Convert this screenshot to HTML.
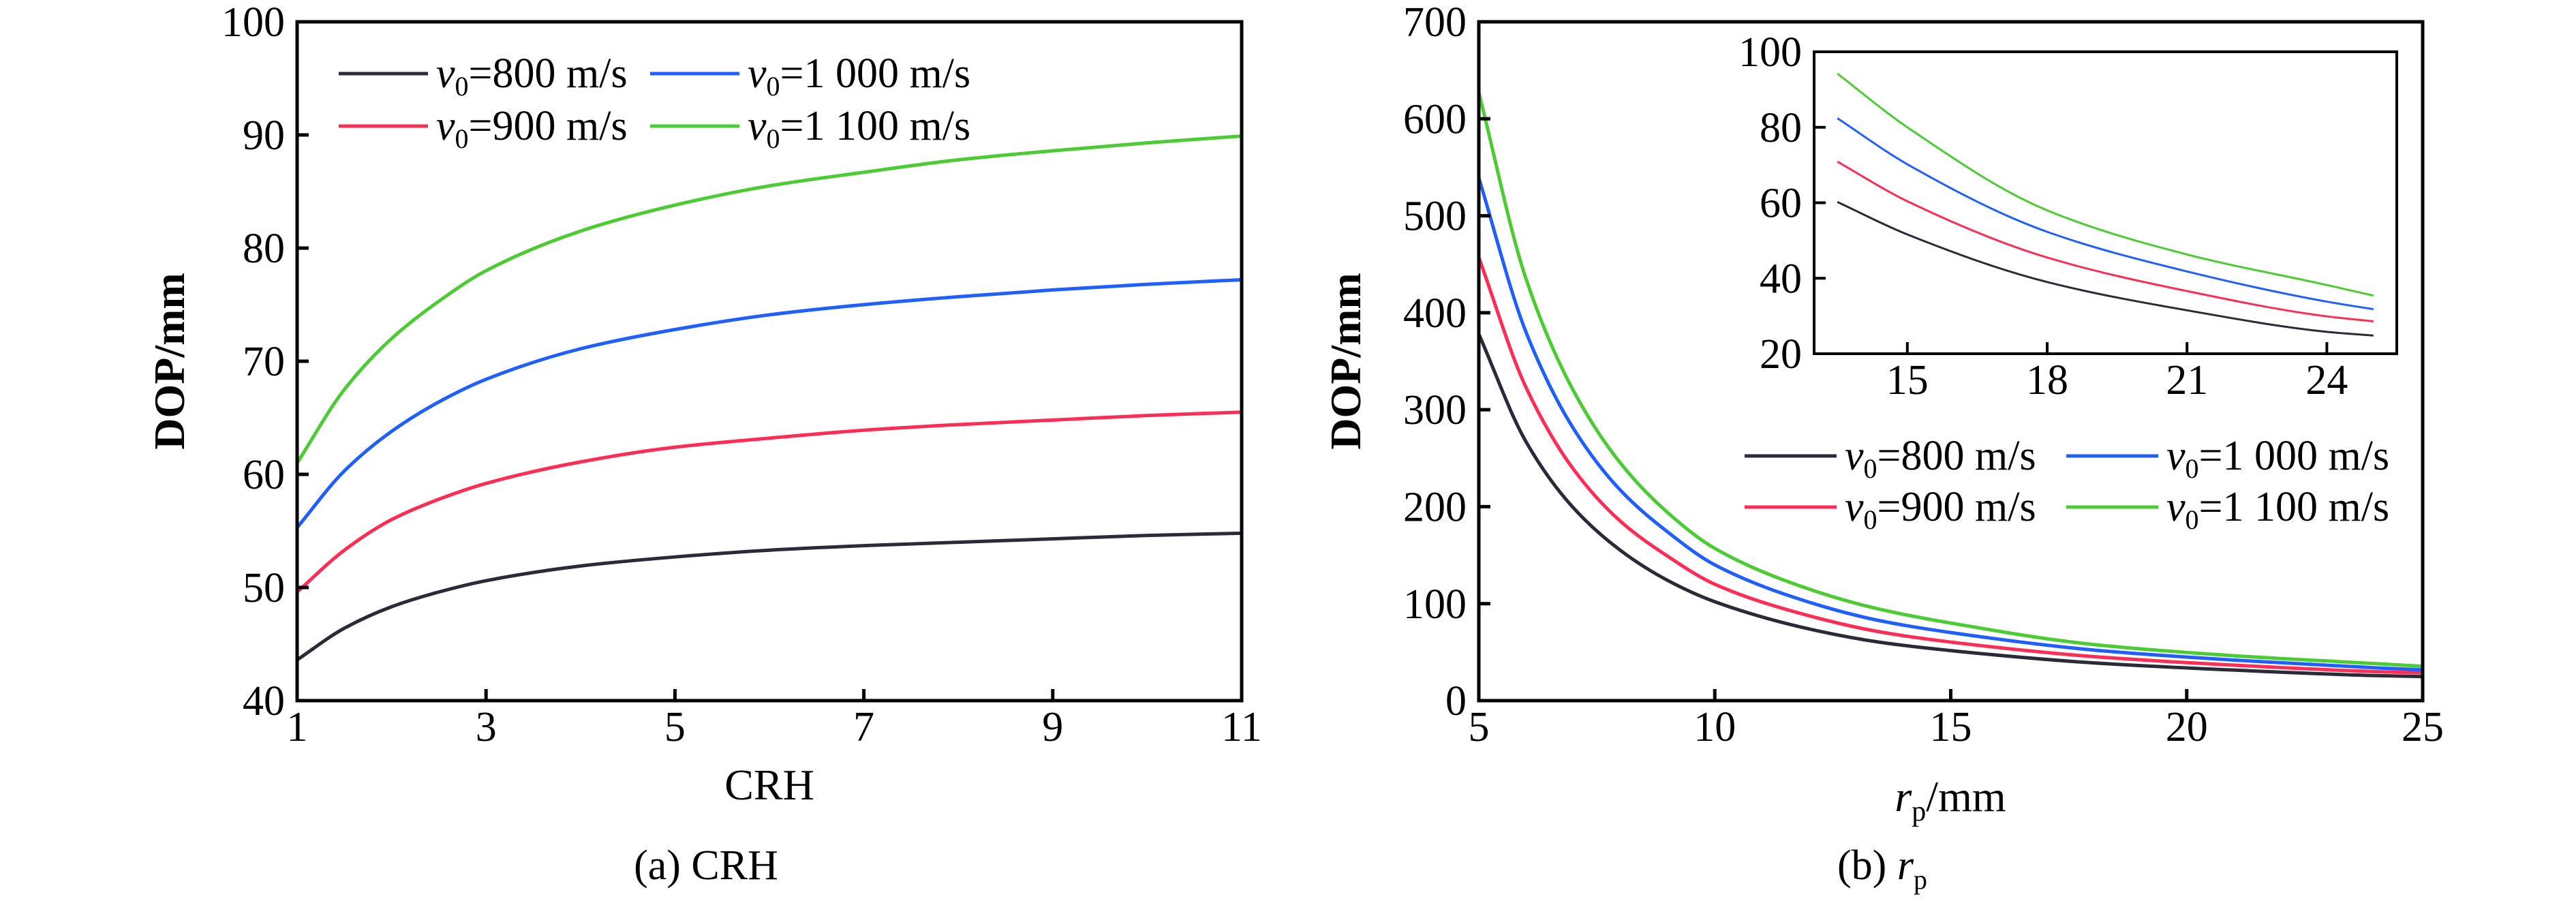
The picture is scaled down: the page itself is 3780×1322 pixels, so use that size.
<!DOCTYPE html>
<html><head><meta charset="utf-8"><style>
html,body{margin:0;padding:0;background:#fff;}
svg, svg text{font-family:"Liberation Serif","Times New Roman",serif;}
svg{display:block;}
</style></head><body>
<svg id="chart" width="3780" height="1322" viewBox="0 0 3780 1322" font-family="Liberation Serif, serif">
<g id="root"></g>
</svg>
<script>
const crh = [1,1.5,2,2.5,3,4,5,6,7,8,9,10,11];
const crh800 = [43.6,46.4,48.3,49.6,50.6,51.9,52.7,53.3,53.7,54,54.3,54.6,54.8];
const crh900 = [49.6,53.3,56,57.8,59.2,61.1,62.4,63.2,63.9,64.4,64.8,65.2,65.5];
const crh1000 = [55.3,60.3,63.8,66.4,68.4,71.1,72.8,74.1,75,75.7,76.3,76.8,77.2];
const crh1100 = [61,67.5,72,75.3,78,81.5,83.8,85.5,86.7,87.8,88.6,89.3,89.9];
const rp = [5,6,7,8,9,10,12,13.5,15,18,21,24,25];
const rp800 = [378,267,199,155,124,102,73.9,60.2,51.6,39,31.5,25.8,24.8];
const rp900 = [457,323,239,185,149,120,87.5,70.9,60.4,45.5,36.6,29.9,28.6];
const rp1000 = [539,380,281,217,174,140,101.5,82.4,70.2,52.3,41.8,33.8,31.8];
const rp1100 = [627,435,320,245,194,157,115,94.2,80,58,46.3,38.2,35.4];
const crhXTicks = [1,3,5,7,9,11];
const crhYTicks = [40,50,60,70,80,90,100];
const rpXTicks = [5,10,15,20,25];
const rpYTicks = [0,100,200,300,400,500,600,700];
const insetXTicks = [15,18,21,24];
const insetYTicks = [20,40,60,80,100];
const seriesNames = ["800","900","1 000","1 100"];
const colors = ["#2a2a38","#ff2d55","#1f5fff","#4ccc33"];

const NS="http://www.w3.org/2000/svg";
const FF="Liberation Serif, Times New Roman, serif";
const root=document.getElementById('root');
function el(tag,attrs,parent){const e=document.createElementNS(NS,tag);for(const k in attrs)e.setAttribute(k,attrs[k]);(parent||root).appendChild(e);return e;}
function scale(d0,d1,r0,r1){return v=>r0+(v-d0)/(d1-d0)*(r1-r0);}
function pathD(xs,ys){
  // monotone cubic (Fritsch-Carlson)
  const n=xs.length;const dx=[],m=[],t=[];
  for(let i=0;i<n-1;i++){dx.push(xs[i+1]-xs[i]);m.push((ys[i+1]-ys[i])/dx[i]);}
  t[0]=m[0];t[n-1]=m[n-2];
  for(let i=1;i<n-1;i++){t[i]=(m[i-1]*m[i]<=0)?0:(dx[i-1]+dx[i])*3/((2*dx[i]+dx[i-1])/m[i-1]+(dx[i]+2*dx[i-1])/m[i]);}
  let d="M"+xs[0]+","+ys[0];
  for(let i=0;i<n-1;i++){
    const h=dx[i]/3;
    d+=" C"+(xs[i]+h)+","+(ys[i]+t[i]*h)+" "+(xs[i+1]-h)+","+(ys[i+1]-t[i+1]*h)+" "+xs[i+1]+","+ys[i+1];
  }
  return d;
}
function text(str,x,y,size,anchor,parent,name){
  const t=el('text',{x:x,y:y,'font-size':size,'text-anchor':anchor||'middle',fill:'#000','font-family':FF},parent);
  t.textContent=str;
  
  
  return t;
}
function axesFrame(L,R,T,B,xs,ys,xt,yt,fs,tl,sw,name){
  const g=el('g',{});
  
  
  xt.forEach(v=>{
    const ln=el('line',{x1:xs(v),x2:xs(v),y1:B,y2:B-tl,stroke:'#000','stroke-width':sw},g);
    
    
    text(String(v),xs(v),B+fs*0.95,fs,'middle',g,'x-tick-label');
  });
  yt.forEach(v=>{
    const ln=el('line',{x1:L,x2:L+tl,y1:ys(v),y2:ys(v),stroke:'#000','stroke-width':sw},g);
    
    
    text(String(v),L-18,ys(v)+fs*0.34,fs,'end',g,'y-tick-label');
  });
  const r=el('rect',{x:L,y:T,width:R-L,height:B-T,fill:'none',stroke:'#000','stroke-width':sw},g);
  
  
  return g;
}
function legend(x0,y0,colGap,rowGap,lineLen){
  const g=el('g',{});
  
  
  const order=[[0,0,0],[2,1,0],[1,0,1],[3,1,1]];
  order.forEach(([si,c,r])=>{
    const x=x0+c*colGap,y=y0+r*rowGap;
    const ln=el('line',{x1:x,x2:x+lineLen,y1:y,y2:y,stroke:colors[si],'stroke-width':5},g);
    
    
    const t=el('text',{x:x+lineLen+12,y:y+20,'font-size':62,fill:'#000','font-family':FF},g);
    
    
    const a=el('tspan',{'font-style':'italic'},t);a.textContent='v';
    const b=el('tspan',{'font-size':40,dy:12},t);b.textContent='0';
    const c2=el('tspan',{dy:-12},t);c2.textContent='='+seriesNames[si]+' m/s';
  });
}
function series(xsArr,ysArrs,xs,ys,sw,filter,name){
  ysArrs.forEach((arr,i)=>{
    let X=[],Y=[];
    xsArr.forEach((v,j)=>{if(!filter||filter(v)){X.push(xs(v));Y.push(ys(arr[j]));}});
    const p=el('path',{d:pathD(X,Y),fill:'none',stroke:colors[i],'stroke-width':sw,'stroke-linejoin':'round'});
    
    
  });
}
// Left chart
{
  const L=436,R=1822,T=32,B=1028;
  const xs=scale(1,11,L,R), ys=scale(40,100,B,T);
  series(crh,[crh800,crh900,crh1000,crh1100],xs,ys,5,null,'crh-line');
  axesFrame(L,R,T,B,xs,ys,crhXTicks,crhYTicks,62,17,5,'crh-axes');
  legend(497,108,457,77,131);
  text('CRH',(L+R)/2,1173,64,'middle',null,'x-axis-title');
  const yt=text('DOP/mm',0,0,64,'middle',null,'y-axis-title');
  yt.setAttribute('font-weight','bold');
  yt.setAttribute('transform','translate(270,530) rotate(-90)');
  text('(a) CRH',1036,1290,62,'middle',null,'caption-a');
}
// Right chart
{
  const L=2170,R=3555,T=32,B=1028;
  const xs=scale(5,25,L,R), ys=scale(0,700,B,T);
  series(rp,[rp800,rp900,rp1000,rp1100],xs,ys,5,null,'rp-line');
  axesFrame(L,R,T,B,xs,ys,rpXTicks,rpYTicks,62,17,5,'rp-axes');
  legend(2560,669,472,75,135);
  const t=el('text',{x:2862,y:1190,'font-size':64,'text-anchor':'middle',fill:'#000','font-family':FF});
  
  
  let a=el('tspan',{'font-style':'italic'},t);a.textContent='r';
  let b=el('tspan',{'font-size':42,dy:14},t);b.textContent='p';
  let c=el('tspan',{dy:-14},t);c.textContent='/mm';
  const yt=text('DOP/mm',0,0,64,'middle',null,'y-axis-title-rp');
  yt.setAttribute('font-weight','bold');
  yt.setAttribute('transform','translate(1996,530) rotate(-90)');
  const cap=el('text',{x:2762,y:1290,'font-size':62,'text-anchor':'middle',fill:'#000','font-family':FF});
  
  
  a=el('tspan',{},cap);a.textContent='(b) ';
  b=el('tspan',{'font-style':'italic'},cap);b.textContent='r';
  c=el('tspan',{'font-size':40,dy:14},cap);c.textContent='p';
  // Inset
  const iL=2662,iR=3517,iT=76,iB=519;
  const ixs=scale(13,25.5,iL,iR), iys=scale(20,100,iB,iT);
  const bg=el('rect',{x:iL,y:iT,width:iR-iL,height:iB-iT,fill:'#fff'});
  
  
  series(rp,[rp800,rp900,rp1000,rp1100],ixs,iys,3,v=>v>=13.5,'inset-line');
  axesFrame(iL,iR,iT,iB,ixs,iys,insetXTicks,insetYTicks,62,17,4,'inset-axes');
}
</script>
</body></html>
